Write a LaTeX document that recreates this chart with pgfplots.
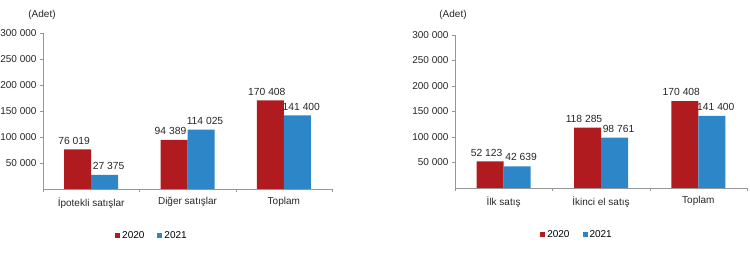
\documentclass[border=0pt]{standalone}
\usepackage{fontspec}
\setmainfont{Liberation Sans}
\usepackage{pgfplots}
\pgfplotsset{compat=1.18}
\definecolor{r20}{RGB}{176,27,32}
\definecolor{b21}{RGB}{44,134,200}
\definecolor{axg}{RGB}{150,150,150}
\pgfplotsset{
  mystyle/.style={
    scale only axis,
    axis x line*=bottom, axis y line*=left,
    ymin=0, ymax=300000, xmin=-0.5, xmax=2.5,
    enlargelimits=false,
    ytick={50000,100000,150000,200000,250000,300000},
    yticklabels={50~000,100~000,150~000,200~000,250~000,300~000},
    xtick={-0.5,0.5,1.5,2.5}, x tick label as interval,
    tick align=outside, major tick length=3pt,
    ybar=0pt, bar width=27pt,
    axis line style={axg}, tick style={axg},
    scaled y ticks=false,
    tick label style={font=\fontsize{10}{12}\selectfont, text=black!85},
    xticklabel style={yshift=-2pt},
    point meta=explicit symbolic,
    nodes near coords,
    every node near coord/.append style={font=\fontsize{10.3}{12}\selectfont, text=black!85, inner sep=2pt, yshift=3pt},
    legend style={draw=none, fill=none, legend columns=2, font=\fontsize{10}{12}\selectfont,
      /tikz/every even column/.append style={column sep=11pt}},
    legend image code/.code={\fill[##1] (0pt,-2.5pt) rectangle (5pt,2.5pt);},
  }
}
\begin{document}
\begin{tikzpicture}[x=1pt,y=1pt]
\path[use as bounding box] (0,0) rectangle (750,259);
\node[font=\fontsize{10}{12}\selectfont, text=black!85] at (42,244) {(Adet)};
\node[font=\fontsize{10}{12}\selectfont, text=black!85] at (453,244) {(Adet)};
\begin{axis}[mystyle, at={(43pt,70pt)}, anchor=south west, width=289pt, height=156pt,
  xticklabels={İpotekli satışlar, Diğer satışlar, Toplam},
  legend style={at={(0.377,-0.30)}, anchor=center}]
\addplot[fill=r20, draw=none, every node near coord/.append style={xshift=-3.5pt}] coordinates {(0,76019) [76~019] (1,94389) [94~389] (2,170408) [170~408]};
\addplot[fill=b21, draw=none, every node near coord/.append style={xshift=4pt}] coordinates {(0,27375) [27~375] (1,114025) [114~025] (2,141400) [141~400]};
\legend{2020,2021}
\end{axis}
\begin{axis}[mystyle, at={(455pt,71pt)}, anchor=south west, width=292pt, height=153pt,
  xticklabels={İlk satış, İkinci el satış, Toplam},
  legend style={at={(0.418,-0.305)}, anchor=center}]
\addplot[fill=r20, draw=none, every node near coord/.append style={xshift=-3.5pt}] coordinates {(0,52123) [52~123] (1,118285) [118~285] (2,170408) [170~408]};
\addplot[fill=b21, draw=none, every node near coord/.append style={xshift=4pt}] coordinates {(0,42639) [42~639] (1,98761) [98~761] (2,141400) [141~400]};
\legend{2020,2021}
\end{axis}
\end{tikzpicture}
\end{document}
